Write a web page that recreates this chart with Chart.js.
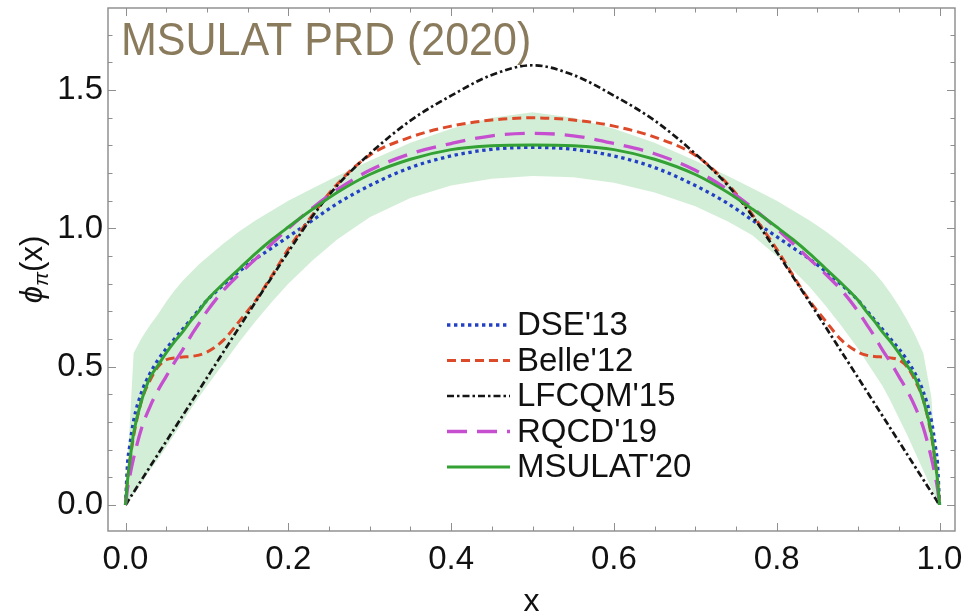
<!DOCTYPE html>
<html><head><meta charset="utf-8">
<script src="https://cdn.jsdelivr.net/npm/chart.js@4.4.1/dist/chart.umd.min.js"></script>
<style>html,body{margin:0;padding:0;background:#fff}</style>
</head><body>
<canvas id="c" width="964" height="616" style="width:964px;height:616px;display:block"></canvas>
<script>
// ---- data ----
const xs = [0,0.0025,0.005,0.01,0.02,0.03,0.04,0.05,0.06,0.07,0.08,0.09,0.1,0.12,0.14,0.16,0.18,0.2,0.23,0.26,0.3,0.35,0.4,0.45,0.5,
            0.55,0.6,0.65,0.7,0.74,0.77,0.8,0.82,0.84,0.86,0.88,0.9,0.91,0.92,0.93,0.94,0.95,0.96,0.97,0.98,0.99,0.995,0.9975,1];
const dse13 = [0,0.15,0.21,0.305,0.41,0.475,0.525,0.565,0.6,0.635,0.67,0.705,0.74,0.795,0.845,0.89,0.93,0.97,1.03,1.09,1.155,1.22,1.262,1.286,1.293,
               1.286,1.262,1.22,1.155,1.09,1.03,0.97,0.93,0.89,0.845,0.795,0.74,0.705,0.67,0.635,0.6,0.565,0.525,0.475,0.41,0.305,0.21,0.15,0];
const belle12 = [0,0.09,0.15,0.25,0.38,0.45,0.50,0.525,0.532,0.535,0.537,0.542,0.553,0.595,0.665,0.74,0.83,0.925,1.05,1.16,1.265,1.33,1.37,1.392,1.40,
                 1.392,1.37,1.33,1.265,1.16,1.05,0.925,0.83,0.74,0.665,0.595,0.553,0.542,0.537,0.535,0.532,0.525,0.50,0.45,0.38,0.25,0.15,0.09,0];
const lfcqm15 = [0,0.011,0.023,0.046,0.092,0.138,0.184,0.23,0.276,0.322,0.368,0.414,0.46,0.552,0.644,0.735,0.825,0.915,1.045,1.155,1.27,1.39,1.48,1.555,1.59,
                 1.555,1.48,1.39,1.27,1.155,1.045,0.915,0.825,0.735,0.644,0.552,0.46,0.414,0.368,0.322,0.276,0.23,0.184,0.138,0.092,0.046,0.023,0.011,0];
const rqcd19 = [0,0.06,0.10,0.17,0.28,0.355,0.415,0.465,0.515,0.56,0.61,0.655,0.70,0.775,0.835,0.89,0.945,1.0,1.075,1.14,1.21,1.27,1.307,1.335,1.344,
                1.335,1.307,1.27,1.21,1.14,1.075,1.0,0.945,0.89,0.835,0.775,0.70,0.655,0.61,0.56,0.515,0.465,0.415,0.355,0.28,0.17,0.10,0.06,0];
const msulat20 = [0,0.09,0.15,0.26,0.38,0.46,0.505,0.55,0.59,0.625,0.665,0.70,0.74,0.80,0.855,0.91,0.96,1.005,1.07,1.13,1.195,1.25,1.285,1.299,1.302,
                  1.299,1.285,1.25,1.195,1.13,1.07,1.005,0.96,0.91,0.855,0.80,0.74,0.70,0.665,0.625,0.59,0.55,0.505,0.46,0.38,0.26,0.15,0.09,0];
const bandUpper = [0,0.15,0.28,0.55,0.605,0.65,0.69,0.735,0.775,0.81,0.84,0.87,0.895,0.945,0.99,1.03,1.065,1.10,1.145,1.19,1.245,1.31,1.36,1.40,1.42,
                   1.40,1.36,1.31,1.245,1.19,1.145,1.10,1.065,1.03,0.99,0.945,0.895,0.87,0.84,0.805,0.765,0.72,0.67,0.615,0.55,0.39,0.17,0.06,0];
const bandLower = [0,0.01,0.02,0.04,0.08,0.125,0.165,0.21,0.255,0.30,0.345,0.39,0.43,0.51,0.59,0.665,0.735,0.80,0.885,0.96,1.04,1.11,1.155,1.18,1.19,
                   1.185,1.165,1.13,1.08,1.025,0.975,0.90,0.85,0.79,0.72,0.645,0.565,0.52,0.475,0.43,0.375,0.315,0.255,0.19,0.125,0.06,0.03,0.015,0];
const seriesNames = ["DSE'13","Belle'12","LFCQM'15","RQCD'19","MSULAT'20"];
const xTicks = [0,0.2,0.4,0.6,0.8,1.0];
const yTicks = [0,0.5,1.0,1.5];
const xMinorTicks = [0.05,0.1,0.15,0.25,0.3,0.35,0.45,0.5,0.55,0.65,0.7,0.75,0.85,0.9,0.95];
const yMinorTicks = [0.1,0.2,0.3,0.4,0.6,0.7,0.8,0.9,1.1,1.2,1.3,1.4,1.6,1.7];
const chartTitle = "MSULAT PRD (2020)";

// ---- styles ----
const FONT = "'Liberation Sans', Arial, sans-serif";
const pts = arr => xs.map((x, i) => ({x: x, y: arr[i]}));
const styles = [
  {data: dse13,    color: '#2340c4', dash: [3.4, 3.6], width: 3.3, order: 5},
  {data: belle12,  color: '#dc4a2a', dash: [9, 5],     width: 3, order: 4},
  {data: lfcqm15,  color: '#151515', dash: [7, 3, 2.5, 3], width: 2.7, order: 3},
  {data: rqcd19,   color: '#c64fd0', dash: [20, 10],   width: 3.3, order: 2},
  {data: msulat20, color: '#33a133', dash: [],         width: 3, order: 1}
];

const datasets = [
  {label: 'band lower', data: pts(bandLower), borderWidth: 0, pointRadius: 0, fill: false, order: 20, tension: 0},
  {label: 'band', data: pts(bandUpper), borderWidth: 0, pointRadius: 0, fill: '-1',
   backgroundColor: 'rgba(196,232,202,0.75)', order: 19, tension: 0}
];
styles.forEach((s, i) => datasets.push({
  label: seriesNames[i], data: pts(s.data), borderColor: s.color, borderWidth: s.width,
  borderDash: s.dash, pointRadius: 0, fill: false, order: s.order,
  cubicInterpolationMode: 'monotone'
}));

const decor = {
  id: 'decor',
  afterDatasetsDraw(chart) {
    const {ctx, chartArea: a, scales: {x, y}} = chart;
    ctx.save();
    // ticks (inward, all four sides)
    ctx.strokeStyle = '#8f8f8f'; ctx.lineWidth = 1;
    const vt = (v, len) => { const p = Math.round(x.getPixelForValue(v)) + 0.5;
      ctx.beginPath(); ctx.moveTo(p, a.bottom); ctx.lineTo(p, a.bottom - len);
      ctx.moveTo(p, a.top); ctx.lineTo(p, a.top + len); ctx.stroke(); };
    const ht = (v, len) => { const p = Math.round(y.getPixelForValue(v)) + 0.5;
      ctx.beginPath(); ctx.moveTo(a.left, p); ctx.lineTo(a.left + len, p);
      ctx.moveTo(a.right, p); ctx.lineTo(a.right - len, p); ctx.stroke(); };
    xTicks.forEach(v => vt(v, 8)); xMinorTicks.forEach(v => vt(v, 4.5));
    yTicks.forEach(v => ht(v, 8)); yMinorTicks.forEach(v => ht(v, 4.5));
    // frame
    ctx.strokeStyle = '#8a8a8a'; ctx.lineWidth = 1.4;
    ctx.strokeRect(a.left, a.top, a.right - a.left, a.bottom - a.top);
    // title
    ctx.save();
    ctx.fillStyle = '#8b7b5d'; ctx.font = '47px ' + FONT; ctx.textBaseline = 'alphabetic';
    ctx.translate(121, 55); ctx.scale(0.915, 1); ctx.fillText(chartTitle, 0, 0);
    ctx.restore();
    // legend
    const rows = [325, 360.5, 396, 431.5, 467];
    styles.forEach((s, i) => {
      ctx.save();
      ctx.strokeStyle = s.color; ctx.lineWidth = s.width; ctx.setLineDash(s.dash);
      ctx.beginPath(); ctx.moveTo(447, rows[i]); ctx.lineTo(510, rows[i]); ctx.stroke();
      ctx.restore();
      ctx.fillStyle = '#111'; ctx.font = '33px ' + FONT; ctx.textBaseline = 'middle'; ctx.textAlign = 'left';
      ctx.fillText(seriesNames[i], 517, rows[i] + 1);
    });
    // x axis title
    ctx.fillStyle = '#111'; ctx.font = '32px ' + FONT; ctx.textAlign = 'center'; ctx.textBaseline = 'alphabetic';
    ctx.fillText('x', (a.left + a.right) / 2, 611);
    // y axis title  phi_pi(x)
    ctx.save();
    ctx.translate(42, (a.top + a.bottom) / 2); ctx.rotate(-Math.PI / 2);
    ctx.textAlign = 'left'; ctx.textBaseline = 'alphabetic';
    const f1 = 'italic 31px ' + FONT, f2 = 'italic 21px ' + FONT, f3 = '31px ' + FONT;
    ctx.font = f1; const w1 = ctx.measureText('\u03D5').width;
    ctx.font = f2; const w2 = ctx.measureText('\u03C0').width;
    ctx.font = f3; const w3 = ctx.measureText('(x)').width;
    let sx = -(w1 + w2 + w3) / 2;
    ctx.font = f1; ctx.fillText('\u03D5', sx, 0); sx += w1;
    ctx.font = f2; ctx.fillText('\u03C0', sx, 6); sx += w2;
    ctx.font = f3; ctx.fillText('(x)', sx, 0);
    ctx.restore();
    ctx.restore();
  }
};

new Chart(document.getElementById('c'), {
  type: 'line',
  data: {datasets: datasets},
  plugins: [decor],
  options: {
    responsive: false, animation: false, devicePixelRatio: 1,
    layout: {padding: {top: 8, right: 9, left: 0, bottom: 0}},
    plugins: {legend: {display: false}, tooltip: {enabled: false}, filler: {propagate: false}},
    elements: {point: {radius: 0}},
    scales: {
      x: {type: 'linear', min: -0.0215, max: 1.019,
          afterBuildTicks: s => { s.ticks = xTicks.map(v => ({value: v})); },
          afterFit: s => { s.height = 85; s.paddingLeft = 0; s.paddingRight = 0; },
          grid: {display: false, drawTicks: false}, border: {display: false},
          ticks: {font: {family: FONT, size: 33}, color: '#111', padding: 9, maxRotation: 0, autoSkip: false,
                  callback: v => Number(v).toFixed(1)}},
      y: {type: 'linear', min: -0.094, max: 1.797,
          afterBuildTicks: s => { s.ticks = yTicks.map(v => ({value: v})); },
          afterFit: s => { s.width = 108; s.paddingTop = 0; s.paddingBottom = 0; },
          grid: {display: false, drawTicks: false}, border: {display: false},
          ticks: {font: {family: FONT, size: 33}, color: '#111', padding: 5, autoSkip: false,
                  callback: v => Number(v).toFixed(1)}}
    }
  }
});
</script>
</body></html>
